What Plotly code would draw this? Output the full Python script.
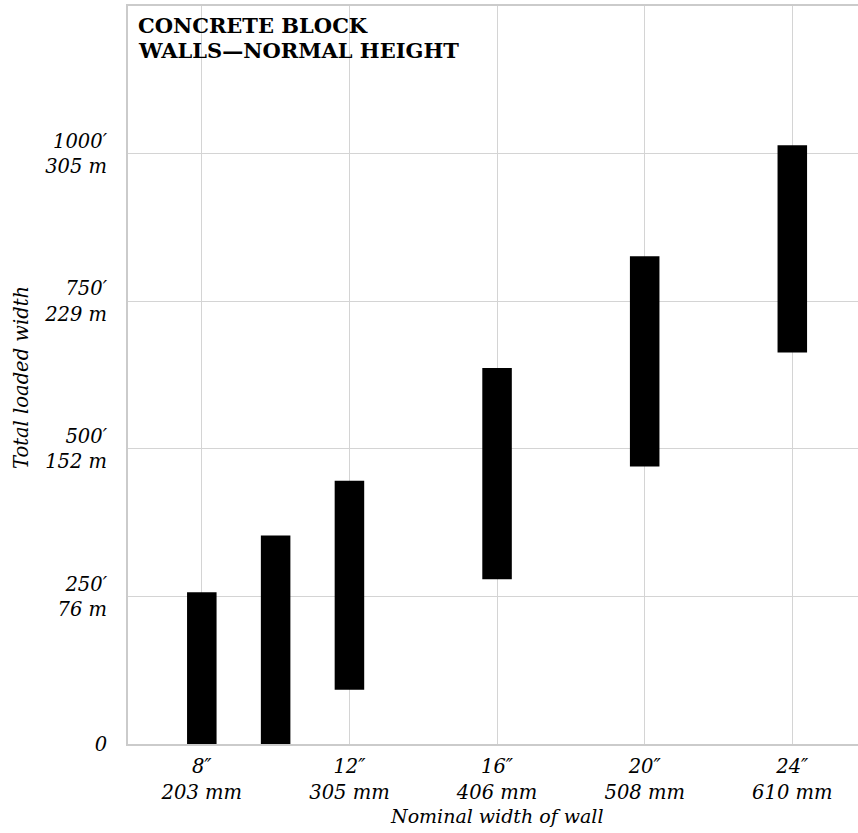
import plotly.graph_objects as go

# Data (nominal wall width in inches, total loaded width in feet)
widths_in = [8, 10, 12, 16, 20, 24]
low_ft = [0, 0, 92, 279, 470, 663]
high_ft = [257, 353, 446, 637, 826, 1014]

x_tick_vals = [8, 12, 16, 20, 24]
x_tick_text = ["8″<br>203 mm", "12″<br>305 mm", "16″<br>406 mm", "20″<br>508 mm", "24″<br>610 mm"]
y_tick_vals = [0, 250, 500, 750, 1000]
y_tick_text = ["0", "250′<br>76 m", "500′<br>152 m", "750′<br>229 m", "1000′<br>305 m"]

title_line1 = "CONCRETE BLOCK"
title_line2 = "WALLS—NORMAL HEIGHT"
x_title = "Nominal width of wall"
y_title = "Total loaded width"

FONT = "DejaVu Serif"
GRID = "#d4d4d4"
AXIS = "#cbcbcb"
TS = 19.5

fig = go.Figure()
fig.add_trace(go.Bar(
    x=widths_in,
    y=[h - l for h, l in zip(high_ft, low_ft)],
    base=low_ft,
    width=0.8,
    marker=dict(color="black", line=dict(width=0)),
    hoverinfo="skip",
))

fig.update_layout(
    width=858, height=833,
    margin=dict(l=128, r=0, t=6, b=89),
    paper_bgcolor="white", plot_bgcolor="white",
    showlegend=False,
    font=dict(family=FONT, color="black"),
    xaxis=dict(
        range=[6, 25.78], tickvals=x_tick_vals, ticktext=x_tick_text,
        showgrid=True, gridcolor=GRID, gridwidth=1,
        showline=True, linecolor=AXIS, linewidth=2, mirror=True,
        ticks="", ticklabelstandoff=4,
        tickfont=dict(family=FONT, size=TS, style="italic", color="black"),
        zeroline=False,
    ),
    yaxis=dict(
        range=[0, 1250], tickvals=y_tick_vals, ticktext=y_tick_text,
        showgrid=True, gridcolor=GRID, gridwidth=1,
        showline=True, linecolor=AXIS, linewidth=2,
        ticks="", ticklabelstandoff=15,
        tickfont=dict(family=FONT, size=TS, style="italic", color="black"),
        zeroline=False,
    ),
    annotations=[
        dict(text="<b>" + title_line1 + "</b>", xref="paper", yref="paper",
             x=0.011, y=0.9729, xanchor="left", yanchor="middle", showarrow=False,
             font=dict(family=FONT, size=21, color="black")),
        dict(text="<b>" + title_line2 + "</b>", xref="paper", yref="paper",
             x=0.011, y=0.9397, xanchor="left", yanchor="middle", showarrow=False,
             font=dict(family=FONT, size=21, color="black")),
        dict(text=x_title, xref="paper", yref="paper", x=0.505, y=-0.0976,
             xanchor="center", yanchor="middle", showarrow=False,
             font=dict(family=FONT, size=19, style="italic", color="black")),
        dict(text=y_title, xref="paper", yref="paper", x=-0.145, y=0.496, textangle=-90,
             xanchor="center", yanchor="middle", showarrow=False,
             font=dict(family=FONT, size=TS, style="italic", color="black")),
    ],
)

fig.write_html(
    "out.html",
    config={"displayModeBar": False},
    post_script="document.body.style.margin='0';document.body.style.overflow='hidden';",
)
